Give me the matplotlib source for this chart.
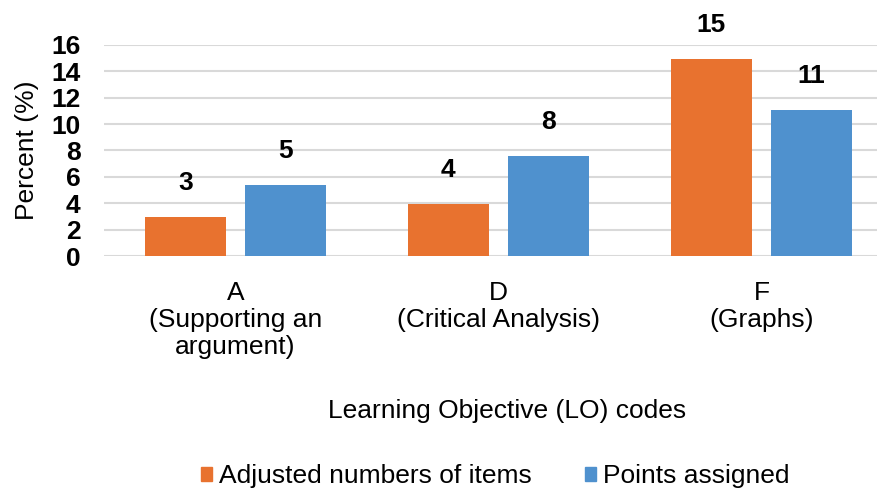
import numpy as np
import matplotlib.pyplot as plt
from matplotlib.patches import Patch

plt.rcParams['font.family'] = ['Liberation Sans', 'DejaVu Sans']

# Datos
categories = ['A\n(Supporting an\nargument)', 'D\n(Critical Analysis)', 'F\n(Graphs)']
adjusted_items = [2.95, 3.95, 14.9]
points_assigned = [5.35, 7.55, 11.05]
series_names = ['Adjusted numbers of items', 'Points assigned']
colors = ['#E8722F', '#4F91CE']
yticks = [0, 2, 4, 6, 8, 10, 12, 14, 16]

fig = plt.figure(figsize=(8.78, 4.91), dpi=100)
ax = fig.add_axes([104 / 878, 0.4786, 789 / 878, 0.430])

x = np.arange(len(categories))
offset = 0.191
width = 0.31

bars1 = ax.bar(x - offset, adjusted_items, width, color=colors[0], zorder=3)
bars2 = ax.bar(x + offset, points_assigned, width, color=colors[1], zorder=3)

# Etiquetas de valores
for bars, vals in [(bars1, adjusted_items), (bars2, points_assigned)]:
    for b, v in zip(bars, vals):
        ax.annotate(f"{v:.0f}", (b.get_x() + b.get_width() / 2, v),
                    xytext=(0, 16), textcoords='offset points',
                    ha='center', va='bottom', fontsize=19, fontweight='bold',
                    annotation_clip=False)

ax.set_xlim(-0.5, 2.5)
ax.set_ylim(0, 16)
ax.set_yticks(yticks)
ax.set_yticklabels([str(t) for t in yticks], fontsize=19, fontweight='bold')
ax.set_xticks(x)
ax.set_xticklabels(categories, fontsize=19, linespacing=1.15)
ax.tick_params(axis='y', length=0, pad=17)
ax.tick_params(axis='x', length=0, pad=18)
ax.grid(axis='y', color='#d9d9d9', linewidth=1.5, zorder=0)
for s in ax.spines.values():
    s.set_visible(False)

ax.set_ylabel('Percent (%)', fontsize=19, labelpad=9)
fig.text(507 / 878, 1 - 411 / 491, 'Learning Objective (LO) codes',
         ha='center', va='center', fontsize=19)

handles = [Patch(color=c, label=n) for c, n in zip(colors, series_names)]
fig.legend(handles=handles, loc='center', bbox_to_anchor=(495 / 878, 1 - 476 / 491),
           ncol=2, frameon=False, fontsize=19, handlelength=0.45, handleheight=0.45,
           handletextpad=0.25, columnspacing=2.0, borderpad=0.2)

fig.savefig('out.png', dpi=100)
